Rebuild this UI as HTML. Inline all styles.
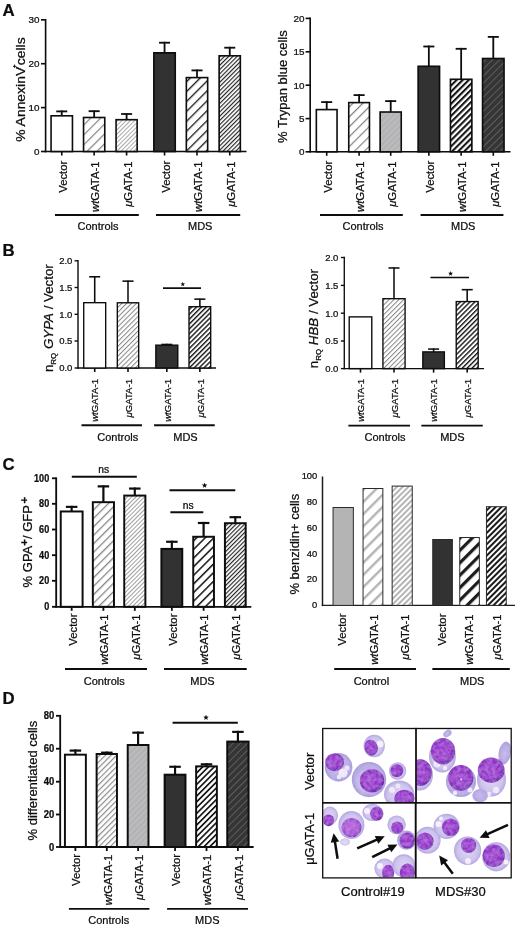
<!DOCTYPE html>
<html><head><meta charset="utf-8"><title>Figure</title><style>html,body{margin:0;padding:0;background:#fff;}body{width:520px;height:928px;overflow:hidden;font-family:"Liberation Sans",sans-serif;}svg{display:block;}</style></head><body>
<svg width="520" height="928" viewBox="0 0 520 928" font-family="'Liberation Sans', sans-serif" shape-rendering="geometricPrecision"><defs><filter id="tb" x="0" y="0" width="520" height="928" filterUnits="userSpaceOnUse"><feGaussianBlur stdDeviation="0.4"/></filter><pattern id="gw" width="7.0" height="7.0" patternUnits="userSpaceOnUse" patternTransform="rotate(-45)"><rect width="7.0" height="7.0" fill="#fff"/><rect x="0" y="0" width="7.0" height="1.2" fill="#808080"/></pattern><pattern id="gf" width="3.0" height="3.0" patternUnits="userSpaceOnUse" patternTransform="rotate(-45)"><rect width="3.0" height="3.0" fill="#fff"/><rect x="0" y="0" width="3.0" height="0.9" fill="#a2a2a2"/></pattern><pattern id="bw" width="7.0" height="7.0" patternUnits="userSpaceOnUse" patternTransform="rotate(-45)"><rect width="7.0" height="7.0" fill="#fff"/><rect x="0" y="0" width="7.0" height="1.35" fill="#1c1c1c"/></pattern><pattern id="bf" width="3.0" height="3.0" patternUnits="userSpaceOnUse" patternTransform="rotate(-45)"><rect width="3.0" height="3.0" fill="#fff"/><rect x="0" y="0" width="3.0" height="1.15" fill="#222222"/></pattern><pattern id="gfill" width="4.2" height="4.2" patternUnits="userSpaceOnUse" patternTransform="rotate(-45)"><rect width="4.2" height="4.2" fill="#b4b4b6"/><rect x="0" y="0" width="4.2" height="0.8" fill="#c4c4c6"/></pattern><pattern id="dfill" width="5.0" height="5.0" patternUnits="userSpaceOnUse" patternTransform="rotate(-45)"><rect width="5.0" height="5.0" fill="#343434"/><rect x="0" y="0" width="5.0" height="0.8" fill="#686868"/></pattern><pattern id="bm" width="4.3" height="4.3" patternUnits="userSpaceOnUse" patternTransform="rotate(-45)"><rect width="4.3" height="4.3" fill="#fff"/><rect x="0" y="0" width="4.3" height="2.1" fill="#151515"/></pattern><pattern id="gm" width="4.0" height="4.0" patternUnits="userSpaceOnUse" patternTransform="rotate(-45)"><rect width="4.0" height="4.0" fill="#fff"/><rect x="0" y="0" width="4.0" height="1.2" fill="#8c8c8c"/></pattern><pattern id="gw2" width="6.0" height="6.0" patternUnits="userSpaceOnUse" patternTransform="rotate(-45)"><rect width="6.0" height="6.0" fill="#fff"/><rect x="0" y="0" width="6.0" height="1.3" fill="#858585"/></pattern><pattern id="gfB" width="3.45" height="3.45" patternUnits="userSpaceOnUse" patternTransform="rotate(-45)"><rect width="3.45" height="3.45" fill="#fff"/><rect x="0" y="0" width="3.45" height="1.0" fill="#858585"/></pattern><pattern id="bfB" width="3.45" height="3.45" patternUnits="userSpaceOnUse" patternTransform="rotate(-45)"><rect width="3.45" height="3.45" fill="#fff"/><rect x="0" y="0" width="3.45" height="1.4" fill="#151515"/></pattern><pattern id="bw2" width="6.1" height="6.1" patternUnits="userSpaceOnUse" patternTransform="rotate(-45)"><rect width="6.1" height="6.1" fill="#fff"/><rect x="0" y="0" width="6.1" height="1.55" fill="#1a1a1a"/></pattern><pattern id="gf2" width="3.0" height="3.0" patternUnits="userSpaceOnUse" patternTransform="rotate(-45)"><rect width="3.0" height="3.0" fill="#fff"/><rect x="0" y="0" width="3.0" height="0.95" fill="#9a9a9a"/></pattern><pattern id="bmd" width="4.1" height="4.1" patternUnits="userSpaceOnUse" patternTransform="rotate(-45)"><rect width="4.1" height="4.1" fill="#fff"/><rect x="0" y="0" width="4.1" height="1.7" fill="#181818"/></pattern><pattern id="cgw" width="8.6" height="8.6" patternUnits="userSpaceOnUse" patternTransform="rotate(-45)"><rect width="8.6" height="8.6" fill="#fff"/><rect x="0" y="0" width="8.6" height="2.4" fill="#b4b4b4"/></pattern><pattern id="cgf" width="4.0" height="4.0" patternUnits="userSpaceOnUse" patternTransform="rotate(-45)"><rect width="4.0" height="4.0" fill="#fff"/><rect x="0" y="0" width="4.0" height="1.9" fill="#b2b2b2"/></pattern><pattern id="cbw" width="8.8" height="8.8" patternUnits="userSpaceOnUse" patternTransform="rotate(-45)"><rect width="8.8" height="8.8" fill="#fff"/><rect x="0" y="0" width="8.8" height="3.2" fill="#1a1a1a"/></pattern><pattern id="cbf" width="4.0" height="4.0" patternUnits="userSpaceOnUse" patternTransform="rotate(-45)"><rect width="4.0" height="4.0" fill="#fff"/><rect x="0" y="0" width="4.0" height="2.0" fill="#1a1a1a"/></pattern><filter id="bl" x="-5%" y="-5%" width="110%" height="110%"><feGaussianBlur in="SourceGraphic" stdDeviation="0.75" result="b"/><feTurbulence type="fractalNoise" baseFrequency="0.28" numOctaves="2" seed="7" result="t"/><feColorMatrix in="t" type="matrix" values="0 0 0 0 0.84  0 0 0 0 0.50  0 0 0 0 0.94  1.4 0 0 0 -0.45" result="n"/><feComposite in="n" in2="b" operator="in" result="nn"/><feComponentTransfer in="nn" result="n2"><feFuncA type="linear" slope="0.42"/></feComponentTransfer><feMerge><feMergeNode in="b"/><feMergeNode in="n2"/></feMerge></filter><filter id="bl2" x="-20%" y="-20%" width="140%" height="140%"><feGaussianBlur stdDeviation="1.1"/></filter><radialGradient id="nuc" cx="45%" cy="45%" r="55%"><stop offset="0" stop-color="#a040d4"/><stop offset="0.75" stop-color="#8c30c4"/><stop offset="1" stop-color="#702ab0"/></radialGradient><radialGradient id="nucp" cx="45%" cy="45%" r="55%"><stop offset="0" stop-color="#b868dc"/><stop offset="0.75" stop-color="#a04ed0"/><stop offset="1" stop-color="#8440c0"/></radialGradient><radialGradient id="cyt" cx="50%" cy="50%" r="50%"><stop offset="0" stop-color="#c4bee8"/><stop offset="0.8" stop-color="#b4ade2"/><stop offset="1" stop-color="#a29ad8"/></radialGradient><radialGradient id="cytp" cx="50%" cy="50%" r="50%"><stop offset="0" stop-color="#dcd8f2"/><stop offset="0.75" stop-color="#cac4ec"/><stop offset="1" stop-color="#aea6de"/></radialGradient><radialGradient id="rbc" cx="50%" cy="50%" r="50%"><stop offset="0" stop-color="#c3bce9"/><stop offset="1" stop-color="#aaa2de"/></radialGradient><clipPath id="cTL"><rect x="323.3" y="729.1" width="92.2" height="73.2"/></clipPath><clipPath id="cTR"><rect x="416.6" y="729.1" width="94.2" height="73.2"/></clipPath><clipPath id="cBL"><rect x="323.3" y="803.4" width="91.6" height="73.9"/></clipPath><clipPath id="cBR"><rect x="416.6" y="803.4" width="94.2" height="73.9"/></clipPath></defs><rect width="520" height="928" fill="#fff"/><g filter="url(#tb)"><text x="2.60" y="15.70" font-size="16.8" text-anchor="start" font-weight="bold" fill="#0a0a0a" stroke="#0a0a0a" stroke-width="0.22" >A</text>
<line x1="45.60" y1="19.00" x2="45.60" y2="152.30" stroke="#0a0a0a" stroke-width="1.6" stroke-linecap="butt"/>
<line x1="44.80" y1="151.50" x2="246.50" y2="151.50" stroke="#0a0a0a" stroke-width="1.6" stroke-linecap="butt"/>
<line x1="41.00" y1="19.80" x2="45.60" y2="19.80" stroke="#0a0a0a" stroke-width="1.6" stroke-linecap="butt"/>
<text x="39.60" y="23.36" font-size="9.9" text-anchor="end" font-weight="normal" fill="#0a0a0a" stroke="#0a0a0a" stroke-width="0.22" >30</text>
<line x1="41.00" y1="63.70" x2="45.60" y2="63.70" stroke="#0a0a0a" stroke-width="1.6" stroke-linecap="butt"/>
<text x="39.60" y="67.26" font-size="9.9" text-anchor="end" font-weight="normal" fill="#0a0a0a" stroke="#0a0a0a" stroke-width="0.22" >20</text>
<line x1="41.00" y1="107.60" x2="45.60" y2="107.60" stroke="#0a0a0a" stroke-width="1.6" stroke-linecap="butt"/>
<text x="39.60" y="111.16" font-size="9.9" text-anchor="end" font-weight="normal" fill="#0a0a0a" stroke="#0a0a0a" stroke-width="0.22" >10</text>
<line x1="41.00" y1="151.50" x2="45.60" y2="151.50" stroke="#0a0a0a" stroke-width="1.6" stroke-linecap="butt"/>
<text x="39.60" y="155.06" font-size="9.9" text-anchor="end" font-weight="normal" fill="#0a0a0a" stroke="#0a0a0a" stroke-width="0.22" >0</text>
<rect x="51.05" y="115.80" width="21.40" height="35.70" fill="#fff" stroke="#0a0a0a" stroke-width="1.6"/>
<line x1="61.75" y1="115.80" x2="61.75" y2="110.50" stroke="#0a0a0a" stroke-width="1.8" stroke-linecap="butt"/>
<line x1="56.25" y1="111.40" x2="67.25" y2="111.40" stroke="#0a0a0a" stroke-width="1.8" stroke-linecap="butt"/>
<rect x="83.55" y="117.50" width="21.20" height="34.00" fill="url(#gw)" stroke="#0a0a0a" stroke-width="1.6"/>
<line x1="94.15" y1="117.50" x2="94.15" y2="110.30" stroke="#0a0a0a" stroke-width="1.8" stroke-linecap="butt"/>
<line x1="88.65" y1="111.20" x2="99.65" y2="111.20" stroke="#0a0a0a" stroke-width="1.8" stroke-linecap="butt"/>
<rect x="116.05" y="119.70" width="21.10" height="31.80" fill="url(#gf)" stroke="#0a0a0a" stroke-width="1.6"/>
<line x1="126.60" y1="119.70" x2="126.60" y2="113.10" stroke="#0a0a0a" stroke-width="1.8" stroke-linecap="butt"/>
<line x1="121.10" y1="114.00" x2="132.10" y2="114.00" stroke="#0a0a0a" stroke-width="1.8" stroke-linecap="butt"/>
<rect x="153.85" y="52.80" width="21.40" height="98.70" fill="#313131" stroke="#0a0a0a" stroke-width="1.6"/>
<line x1="164.55" y1="52.80" x2="164.55" y2="41.80" stroke="#0a0a0a" stroke-width="1.8" stroke-linecap="butt"/>
<line x1="159.05" y1="42.70" x2="170.05" y2="42.70" stroke="#0a0a0a" stroke-width="1.8" stroke-linecap="butt"/>
<rect x="186.35" y="77.60" width="21.30" height="73.90" fill="url(#bw)" stroke="#0a0a0a" stroke-width="1.6"/>
<line x1="197.00" y1="77.60" x2="197.00" y2="69.50" stroke="#0a0a0a" stroke-width="1.8" stroke-linecap="butt"/>
<line x1="191.50" y1="70.40" x2="202.50" y2="70.40" stroke="#0a0a0a" stroke-width="1.8" stroke-linecap="butt"/>
<rect x="219.15" y="55.80" width="21.20" height="95.70" fill="url(#bf)" stroke="#0a0a0a" stroke-width="1.6"/>
<line x1="229.75" y1="55.80" x2="229.75" y2="46.80" stroke="#0a0a0a" stroke-width="1.8" stroke-linecap="butt"/>
<line x1="224.25" y1="47.70" x2="235.25" y2="47.70" stroke="#0a0a0a" stroke-width="1.8" stroke-linecap="butt"/>
<line x1="61.75" y1="151.50" x2="61.75" y2="155.50" stroke="#0a0a0a" stroke-width="1.6" stroke-linecap="butt"/>
<line x1="94.15" y1="151.50" x2="94.15" y2="155.50" stroke="#0a0a0a" stroke-width="1.6" stroke-linecap="butt"/>
<line x1="126.60" y1="151.50" x2="126.60" y2="155.50" stroke="#0a0a0a" stroke-width="1.6" stroke-linecap="butt"/>
<line x1="164.55" y1="151.50" x2="164.55" y2="155.50" stroke="#0a0a0a" stroke-width="1.6" stroke-linecap="butt"/>
<line x1="197.00" y1="151.50" x2="197.00" y2="155.50" stroke="#0a0a0a" stroke-width="1.6" stroke-linecap="butt"/>
<line x1="229.75" y1="151.50" x2="229.75" y2="155.50" stroke="#0a0a0a" stroke-width="1.6" stroke-linecap="butt"/>
<text x="67.02" y="160.70" font-size="11.3" text-anchor="end" font-weight="normal" fill="#0a0a0a" stroke="#0a0a0a" stroke-width="0.22" transform="rotate(-90 67.02 160.70)" >Vector</text>
<text x="99.42" y="161.50" font-size="11.3" text-anchor="end" font-weight="normal" fill="#0a0a0a" stroke="#0a0a0a" stroke-width="0.22" transform="rotate(-90 99.42 161.50)" ><tspan font-style="italic">wt</tspan>GATA-1</text>
<text x="131.87" y="161.50" font-size="11.3" text-anchor="end" font-weight="normal" fill="#0a0a0a" stroke="#0a0a0a" stroke-width="0.22" transform="rotate(-90 131.87 161.50)" ><tspan font-style="italic">μ</tspan>GATA-1</text>
<text x="169.82" y="160.70" font-size="11.3" text-anchor="end" font-weight="normal" fill="#0a0a0a" stroke="#0a0a0a" stroke-width="0.22" transform="rotate(-90 169.82 160.70)" >Vector</text>
<text x="202.27" y="161.50" font-size="11.3" text-anchor="end" font-weight="normal" fill="#0a0a0a" stroke="#0a0a0a" stroke-width="0.22" transform="rotate(-90 202.27 161.50)" ><tspan font-style="italic">wt</tspan>GATA-1</text>
<text x="235.02" y="161.50" font-size="11.3" text-anchor="end" font-weight="normal" fill="#0a0a0a" stroke="#0a0a0a" stroke-width="0.22" transform="rotate(-90 235.02 161.50)" ><tspan font-style="italic">μ</tspan>GATA-1</text>
<line x1="55.00" y1="215.00" x2="138.80" y2="215.00" stroke="#0a0a0a" stroke-width="1.9" stroke-linecap="butt"/>
<text x="98.00" y="230.00" font-size="11" text-anchor="middle" font-weight="normal" fill="#0a0a0a" stroke="#0a0a0a" stroke-width="0.22" >Controls</text>
<line x1="156.00" y1="215.00" x2="240.20" y2="215.00" stroke="#0a0a0a" stroke-width="1.9" stroke-linecap="butt"/>
<text x="200.20" y="230.00" font-size="11" text-anchor="middle" font-weight="normal" fill="#0a0a0a" stroke="#0a0a0a" stroke-width="0.22" >MDS</text>
<text x="25.00" y="89.60" font-size="12.8" text-anchor="middle" font-weight="normal" fill="#0a0a0a" stroke="#0a0a0a" stroke-width="0.22" transform="rotate(-90 25.00 89.60)" textLength="104.5" lengthAdjust="spacingAndGlyphs">% AnnexinV<tspan font-size="6" dy="-8.6" dx="-1.2" font-weight="bold">+</tspan><tspan dy="8.6" dx="-0.8">cells</tspan></text>
<line x1="310.20" y1="17.60" x2="310.20" y2="152.60" stroke="#0a0a0a" stroke-width="1.6" stroke-linecap="butt"/>
<line x1="309.40" y1="151.80" x2="510.50" y2="151.80" stroke="#0a0a0a" stroke-width="1.6" stroke-linecap="butt"/>
<line x1="305.60" y1="18.40" x2="310.20" y2="18.40" stroke="#0a0a0a" stroke-width="1.6" stroke-linecap="butt"/>
<text x="304.60" y="21.96" font-size="9.9" text-anchor="end" font-weight="normal" fill="#0a0a0a" stroke="#0a0a0a" stroke-width="0.22" >20</text>
<line x1="305.60" y1="51.80" x2="310.20" y2="51.80" stroke="#0a0a0a" stroke-width="1.6" stroke-linecap="butt"/>
<text x="304.60" y="55.36" font-size="9.9" text-anchor="end" font-weight="normal" fill="#0a0a0a" stroke="#0a0a0a" stroke-width="0.22" >15</text>
<line x1="305.60" y1="85.20" x2="310.20" y2="85.20" stroke="#0a0a0a" stroke-width="1.6" stroke-linecap="butt"/>
<text x="304.60" y="88.76" font-size="9.9" text-anchor="end" font-weight="normal" fill="#0a0a0a" stroke="#0a0a0a" stroke-width="0.22" >10</text>
<line x1="305.60" y1="118.60" x2="310.20" y2="118.60" stroke="#0a0a0a" stroke-width="1.6" stroke-linecap="butt"/>
<text x="304.60" y="122.16" font-size="9.9" text-anchor="end" font-weight="normal" fill="#0a0a0a" stroke="#0a0a0a" stroke-width="0.22" >5</text>
<line x1="305.60" y1="151.80" x2="310.20" y2="151.80" stroke="#0a0a0a" stroke-width="1.6" stroke-linecap="butt"/>
<text x="304.60" y="155.36" font-size="9.9" text-anchor="end" font-weight="normal" fill="#0a0a0a" stroke="#0a0a0a" stroke-width="0.22" >0</text>
<rect x="316.35" y="109.60" width="20.70" height="42.20" fill="#fff" stroke="#0a0a0a" stroke-width="1.6"/>
<line x1="326.70" y1="109.60" x2="326.70" y2="101.20" stroke="#0a0a0a" stroke-width="1.8" stroke-linecap="butt"/>
<line x1="321.20" y1="102.10" x2="332.20" y2="102.10" stroke="#0a0a0a" stroke-width="1.8" stroke-linecap="butt"/>
<rect x="348.75" y="102.60" width="20.70" height="49.20" fill="url(#gw)" stroke="#0a0a0a" stroke-width="1.6"/>
<line x1="359.10" y1="102.60" x2="359.10" y2="94.20" stroke="#0a0a0a" stroke-width="1.8" stroke-linecap="butt"/>
<line x1="353.60" y1="95.10" x2="364.60" y2="95.10" stroke="#0a0a0a" stroke-width="1.8" stroke-linecap="butt"/>
<rect x="380.15" y="112.00" width="21.10" height="39.80" fill="url(#gfill)" stroke="#0a0a0a" stroke-width="1.6"/>
<line x1="390.70" y1="112.00" x2="390.70" y2="100.20" stroke="#0a0a0a" stroke-width="1.8" stroke-linecap="butt"/>
<line x1="385.20" y1="101.10" x2="396.20" y2="101.10" stroke="#0a0a0a" stroke-width="1.8" stroke-linecap="butt"/>
<rect x="418.15" y="66.30" width="21.40" height="85.50" fill="#313131" stroke="#0a0a0a" stroke-width="1.6"/>
<line x1="428.85" y1="66.30" x2="428.85" y2="45.60" stroke="#0a0a0a" stroke-width="1.8" stroke-linecap="butt"/>
<line x1="423.35" y1="46.50" x2="434.35" y2="46.50" stroke="#0a0a0a" stroke-width="1.8" stroke-linecap="butt"/>
<rect x="450.45" y="79.30" width="21.40" height="72.50" fill="url(#bm)" stroke="#0a0a0a" stroke-width="1.6"/>
<line x1="461.15" y1="79.30" x2="461.15" y2="47.90" stroke="#0a0a0a" stroke-width="1.8" stroke-linecap="butt"/>
<line x1="455.65" y1="48.80" x2="466.65" y2="48.80" stroke="#0a0a0a" stroke-width="1.8" stroke-linecap="butt"/>
<rect x="482.55" y="58.50" width="21.50" height="93.30" fill="url(#dfill)" stroke="#0a0a0a" stroke-width="1.6"/>
<line x1="493.30" y1="58.50" x2="493.30" y2="36.00" stroke="#0a0a0a" stroke-width="1.8" stroke-linecap="butt"/>
<line x1="487.80" y1="36.90" x2="498.80" y2="36.90" stroke="#0a0a0a" stroke-width="1.8" stroke-linecap="butt"/>
<line x1="326.70" y1="151.80" x2="326.70" y2="155.80" stroke="#0a0a0a" stroke-width="1.6" stroke-linecap="butt"/>
<line x1="359.10" y1="151.80" x2="359.10" y2="155.80" stroke="#0a0a0a" stroke-width="1.6" stroke-linecap="butt"/>
<line x1="390.70" y1="151.80" x2="390.70" y2="155.80" stroke="#0a0a0a" stroke-width="1.6" stroke-linecap="butt"/>
<line x1="428.85" y1="151.80" x2="428.85" y2="155.80" stroke="#0a0a0a" stroke-width="1.6" stroke-linecap="butt"/>
<line x1="461.15" y1="151.80" x2="461.15" y2="155.80" stroke="#0a0a0a" stroke-width="1.6" stroke-linecap="butt"/>
<line x1="493.30" y1="151.80" x2="493.30" y2="155.80" stroke="#0a0a0a" stroke-width="1.6" stroke-linecap="butt"/>
<text x="331.97" y="160.70" font-size="11.3" text-anchor="end" font-weight="normal" fill="#0a0a0a" stroke="#0a0a0a" stroke-width="0.22" transform="rotate(-90 331.97 160.70)" >Vector</text>
<text x="364.37" y="161.50" font-size="11.3" text-anchor="end" font-weight="normal" fill="#0a0a0a" stroke="#0a0a0a" stroke-width="0.22" transform="rotate(-90 364.37 161.50)" ><tspan font-style="italic">wt</tspan>GATA-1</text>
<text x="395.97" y="161.50" font-size="11.3" text-anchor="end" font-weight="normal" fill="#0a0a0a" stroke="#0a0a0a" stroke-width="0.22" transform="rotate(-90 395.97 161.50)" ><tspan font-style="italic">μ</tspan>GATA-1</text>
<text x="434.12" y="160.70" font-size="11.3" text-anchor="end" font-weight="normal" fill="#0a0a0a" stroke="#0a0a0a" stroke-width="0.22" transform="rotate(-90 434.12 160.70)" >Vector</text>
<text x="466.42" y="161.50" font-size="11.3" text-anchor="end" font-weight="normal" fill="#0a0a0a" stroke="#0a0a0a" stroke-width="0.22" transform="rotate(-90 466.42 161.50)" ><tspan font-style="italic">wt</tspan>GATA-1</text>
<text x="498.57" y="161.50" font-size="11.3" text-anchor="end" font-weight="normal" fill="#0a0a0a" stroke="#0a0a0a" stroke-width="0.22" transform="rotate(-90 498.57 161.50)" ><tspan font-style="italic">μ</tspan>GATA-1</text>
<line x1="320.00" y1="215.00" x2="402.80" y2="215.00" stroke="#0a0a0a" stroke-width="1.9" stroke-linecap="butt"/>
<text x="363.00" y="230.00" font-size="11" text-anchor="middle" font-weight="normal" fill="#0a0a0a" stroke="#0a0a0a" stroke-width="0.22" >Controls</text>
<line x1="420.60" y1="215.00" x2="503.40" y2="215.00" stroke="#0a0a0a" stroke-width="1.9" stroke-linecap="butt"/>
<text x="463.20" y="230.00" font-size="11" text-anchor="middle" font-weight="normal" fill="#0a0a0a" stroke="#0a0a0a" stroke-width="0.22" >MDS</text>
<text x="287.20" y="86.60" font-size="13" text-anchor="middle" font-weight="normal" fill="#0a0a0a" stroke="#0a0a0a" stroke-width="0.22" transform="rotate(-90 287.20 86.60)" >% Trypan blue cells</text>
<text x="2.60" y="256.40" font-size="16.8" text-anchor="start" font-weight="bold" fill="#0a0a0a" stroke="#0a0a0a" stroke-width="0.22" >B</text>
<line x1="78.00" y1="260.12" x2="78.00" y2="368.68" stroke="#0a0a0a" stroke-width="1.35" stroke-linecap="butt"/>
<line x1="77.33" y1="368.00" x2="216.00" y2="368.00" stroke="#0a0a0a" stroke-width="1.35" stroke-linecap="butt"/>
<line x1="74.60" y1="260.80" x2="78.00" y2="260.80" stroke="#0a0a0a" stroke-width="1.35" stroke-linecap="butt"/>
<text x="72.40" y="264.22" font-size="9.5" text-anchor="end" font-weight="normal" fill="#0a0a0a" stroke="#0a0a0a" stroke-width="0.22" >2.0</text>
<line x1="74.60" y1="287.50" x2="78.00" y2="287.50" stroke="#0a0a0a" stroke-width="1.35" stroke-linecap="butt"/>
<text x="72.40" y="290.92" font-size="9.5" text-anchor="end" font-weight="normal" fill="#0a0a0a" stroke="#0a0a0a" stroke-width="0.22" >1.5</text>
<line x1="74.60" y1="314.30" x2="78.00" y2="314.30" stroke="#0a0a0a" stroke-width="1.35" stroke-linecap="butt"/>
<text x="72.40" y="317.72" font-size="9.5" text-anchor="end" font-weight="normal" fill="#0a0a0a" stroke="#0a0a0a" stroke-width="0.22" >1.0</text>
<line x1="74.60" y1="341.00" x2="78.00" y2="341.00" stroke="#0a0a0a" stroke-width="1.35" stroke-linecap="butt"/>
<text x="72.40" y="344.42" font-size="9.5" text-anchor="end" font-weight="normal" fill="#0a0a0a" stroke="#0a0a0a" stroke-width="0.22" >0.5</text>
<line x1="74.60" y1="368.00" x2="78.00" y2="368.00" stroke="#0a0a0a" stroke-width="1.35" stroke-linecap="butt"/>
<text x="72.40" y="371.42" font-size="9.5" text-anchor="end" font-weight="normal" fill="#0a0a0a" stroke="#0a0a0a" stroke-width="0.22" >0.0</text>
<rect x="83.72" y="302.68" width="21.95" height="65.33" fill="#fff" stroke="#0a0a0a" stroke-width="1.35"/>
<line x1="94.70" y1="302.68" x2="94.70" y2="276.00" stroke="#0a0a0a" stroke-width="1.55" stroke-linecap="butt"/>
<line x1="89.20" y1="276.77" x2="100.20" y2="276.77" stroke="#0a0a0a" stroke-width="1.55" stroke-linecap="butt"/>
<rect x="117.33" y="302.78" width="21.35" height="65.22" fill="url(#gfB)" stroke="#0a0a0a" stroke-width="1.35"/>
<line x1="128.00" y1="302.78" x2="128.00" y2="280.40" stroke="#0a0a0a" stroke-width="1.55" stroke-linecap="butt"/>
<line x1="122.50" y1="281.17" x2="133.50" y2="281.17" stroke="#0a0a0a" stroke-width="1.55" stroke-linecap="butt"/>
<rect x="155.83" y="345.18" width="21.95" height="22.82" fill="#313131" stroke="#0a0a0a" stroke-width="1.35"/>
<line x1="166.80" y1="345.18" x2="166.80" y2="343.70" stroke="#0a0a0a" stroke-width="1.55" stroke-linecap="butt"/>
<line x1="161.30" y1="344.47" x2="172.30" y2="344.47" stroke="#0a0a0a" stroke-width="1.55" stroke-linecap="butt"/>
<rect x="189.03" y="306.68" width="21.65" height="61.33" fill="url(#bfB)" stroke="#0a0a0a" stroke-width="1.35"/>
<line x1="199.85" y1="306.68" x2="199.85" y2="298.40" stroke="#0a0a0a" stroke-width="1.55" stroke-linecap="butt"/>
<line x1="194.35" y1="299.17" x2="205.35" y2="299.17" stroke="#0a0a0a" stroke-width="1.55" stroke-linecap="butt"/>
<line x1="94.70" y1="368.00" x2="94.70" y2="372.00" stroke="#0a0a0a" stroke-width="1.6" stroke-linecap="butt"/>
<line x1="128.00" y1="368.00" x2="128.00" y2="372.00" stroke="#0a0a0a" stroke-width="1.6" stroke-linecap="butt"/>
<line x1="166.80" y1="368.00" x2="166.80" y2="372.00" stroke="#0a0a0a" stroke-width="1.6" stroke-linecap="butt"/>
<line x1="199.85" y1="368.00" x2="199.85" y2="372.00" stroke="#0a0a0a" stroke-width="1.6" stroke-linecap="butt"/>
<text x="98.46" y="379.00" font-size="9.6" text-anchor="end" font-weight="normal" fill="#0a0a0a" stroke="#0a0a0a" stroke-width="0.22" transform="rotate(-90 98.46 379.00)" ><tspan font-style="italic">wt</tspan>GATA-1</text>
<text x="131.76" y="379.00" font-size="9.6" text-anchor="end" font-weight="normal" fill="#0a0a0a" stroke="#0a0a0a" stroke-width="0.22" transform="rotate(-90 131.76 379.00)" ><tspan font-style="italic">μ</tspan>GATA-1</text>
<text x="170.56" y="379.00" font-size="9.6" text-anchor="end" font-weight="normal" fill="#0a0a0a" stroke="#0a0a0a" stroke-width="0.22" transform="rotate(-90 170.56 379.00)" ><tspan font-style="italic">wt</tspan>GATA-1</text>
<text x="203.61" y="379.00" font-size="9.6" text-anchor="end" font-weight="normal" fill="#0a0a0a" stroke="#0a0a0a" stroke-width="0.22" transform="rotate(-90 203.61 379.00)" ><tspan font-style="italic">μ</tspan>GATA-1</text>
<line x1="81.50" y1="425.30" x2="142.00" y2="425.30" stroke="#0a0a0a" stroke-width="1.9" stroke-linecap="butt"/>
<text x="117.80" y="440.90" font-size="11" text-anchor="middle" font-weight="normal" fill="#0a0a0a" stroke="#0a0a0a" stroke-width="0.22" >Controls</text>
<line x1="154.10" y1="425.30" x2="214.70" y2="425.30" stroke="#0a0a0a" stroke-width="1.9" stroke-linecap="butt"/>
<text x="185.50" y="440.90" font-size="11" text-anchor="middle" font-weight="normal" fill="#0a0a0a" stroke="#0a0a0a" stroke-width="0.22" >MDS</text>
<line x1="163.00" y1="288.10" x2="201.00" y2="288.10" stroke="#0a0a0a" stroke-width="1.7" stroke-linecap="butt"/>
<polygon points="182.80,281.80 183.42,283.45 185.18,283.53 183.80,284.62 184.27,286.32 182.80,285.35 181.33,286.32 181.80,284.62 180.42,283.53 182.18,283.45" fill="#0a0a0a"/>
<text x="52.90" y="318.20" font-size="13.3" text-anchor="middle" font-weight="normal" fill="#0a0a0a" stroke="#0a0a0a" stroke-width="0.22" transform="rotate(-90 52.90 318.20)" >n<tspan font-size="8" dy="3.0">RQ</tspan><tspan dy="-3.0" font-style="italic"> GYPA</tspan> / Vector</text>
<line x1="344.30" y1="256.82" x2="344.30" y2="369.28" stroke="#0a0a0a" stroke-width="1.35" stroke-linecap="butt"/>
<line x1="343.62" y1="368.60" x2="484.00" y2="368.60" stroke="#0a0a0a" stroke-width="1.35" stroke-linecap="butt"/>
<line x1="340.90" y1="257.50" x2="344.30" y2="257.50" stroke="#0a0a0a" stroke-width="1.35" stroke-linecap="butt"/>
<text x="338.40" y="260.92" font-size="9.5" text-anchor="end" font-weight="normal" fill="#0a0a0a" stroke="#0a0a0a" stroke-width="0.22" >2.0</text>
<line x1="340.90" y1="285.40" x2="344.30" y2="285.40" stroke="#0a0a0a" stroke-width="1.35" stroke-linecap="butt"/>
<text x="338.40" y="288.82" font-size="9.5" text-anchor="end" font-weight="normal" fill="#0a0a0a" stroke="#0a0a0a" stroke-width="0.22" >1.5</text>
<line x1="340.90" y1="313.20" x2="344.30" y2="313.20" stroke="#0a0a0a" stroke-width="1.35" stroke-linecap="butt"/>
<text x="338.40" y="316.62" font-size="9.5" text-anchor="end" font-weight="normal" fill="#0a0a0a" stroke="#0a0a0a" stroke-width="0.22" >1.0</text>
<line x1="340.90" y1="341.00" x2="344.30" y2="341.00" stroke="#0a0a0a" stroke-width="1.35" stroke-linecap="butt"/>
<text x="338.40" y="344.42" font-size="9.5" text-anchor="end" font-weight="normal" fill="#0a0a0a" stroke="#0a0a0a" stroke-width="0.22" >0.5</text>
<line x1="340.90" y1="368.60" x2="344.30" y2="368.60" stroke="#0a0a0a" stroke-width="1.35" stroke-linecap="butt"/>
<text x="338.40" y="372.02" font-size="9.5" text-anchor="end" font-weight="normal" fill="#0a0a0a" stroke="#0a0a0a" stroke-width="0.22" >0.0</text>
<rect x="349.23" y="316.88" width="22.55" height="51.73" fill="#fff" stroke="#0a0a0a" stroke-width="1.35"/>
<rect x="382.93" y="298.68" width="22.15" height="69.93" fill="url(#gfB)" stroke="#0a0a0a" stroke-width="1.35"/>
<line x1="394.00" y1="298.68" x2="394.00" y2="267.20" stroke="#0a0a0a" stroke-width="1.55" stroke-linecap="butt"/>
<line x1="388.50" y1="267.97" x2="399.50" y2="267.97" stroke="#0a0a0a" stroke-width="1.55" stroke-linecap="butt"/>
<rect x="422.82" y="351.88" width="21.55" height="16.73" fill="#313131" stroke="#0a0a0a" stroke-width="1.35"/>
<line x1="433.60" y1="351.88" x2="433.60" y2="348.30" stroke="#0a0a0a" stroke-width="1.55" stroke-linecap="butt"/>
<line x1="428.10" y1="349.07" x2="439.10" y2="349.07" stroke="#0a0a0a" stroke-width="1.55" stroke-linecap="butt"/>
<rect x="456.23" y="301.57" width="21.95" height="67.03" fill="url(#bfB)" stroke="#0a0a0a" stroke-width="1.35"/>
<line x1="467.20" y1="301.57" x2="467.20" y2="288.90" stroke="#0a0a0a" stroke-width="1.55" stroke-linecap="butt"/>
<line x1="461.70" y1="289.67" x2="472.70" y2="289.67" stroke="#0a0a0a" stroke-width="1.55" stroke-linecap="butt"/>
<line x1="360.50" y1="368.60" x2="360.50" y2="372.60" stroke="#0a0a0a" stroke-width="1.6" stroke-linecap="butt"/>
<line x1="394.00" y1="368.60" x2="394.00" y2="372.60" stroke="#0a0a0a" stroke-width="1.6" stroke-linecap="butt"/>
<line x1="433.60" y1="368.60" x2="433.60" y2="372.60" stroke="#0a0a0a" stroke-width="1.6" stroke-linecap="butt"/>
<line x1="467.20" y1="368.60" x2="467.20" y2="372.60" stroke="#0a0a0a" stroke-width="1.6" stroke-linecap="butt"/>
<text x="364.26" y="379.00" font-size="9.6" text-anchor="end" font-weight="normal" fill="#0a0a0a" stroke="#0a0a0a" stroke-width="0.22" transform="rotate(-90 364.26 379.00)" ><tspan font-style="italic">wt</tspan>GATA-1</text>
<text x="397.76" y="379.00" font-size="9.6" text-anchor="end" font-weight="normal" fill="#0a0a0a" stroke="#0a0a0a" stroke-width="0.22" transform="rotate(-90 397.76 379.00)" ><tspan font-style="italic">μ</tspan>GATA-1</text>
<text x="437.36" y="379.00" font-size="9.6" text-anchor="end" font-weight="normal" fill="#0a0a0a" stroke="#0a0a0a" stroke-width="0.22" transform="rotate(-90 437.36 379.00)" ><tspan font-style="italic">wt</tspan>GATA-1</text>
<text x="470.96" y="379.00" font-size="9.6" text-anchor="end" font-weight="normal" fill="#0a0a0a" stroke="#0a0a0a" stroke-width="0.22" transform="rotate(-90 470.96 379.00)" ><tspan font-style="italic">μ</tspan>GATA-1</text>
<line x1="348.40" y1="425.60" x2="410.00" y2="425.60" stroke="#0a0a0a" stroke-width="1.9" stroke-linecap="butt"/>
<text x="385.00" y="441.00" font-size="11" text-anchor="middle" font-weight="normal" fill="#0a0a0a" stroke="#0a0a0a" stroke-width="0.22" >Controls</text>
<line x1="421.40" y1="425.60" x2="482.70" y2="425.60" stroke="#0a0a0a" stroke-width="1.9" stroke-linecap="butt"/>
<text x="452.40" y="441.00" font-size="11" text-anchor="middle" font-weight="normal" fill="#0a0a0a" stroke="#0a0a0a" stroke-width="0.22" >MDS</text>
<line x1="430.50" y1="277.50" x2="469.00" y2="277.50" stroke="#0a0a0a" stroke-width="1.7" stroke-linecap="butt"/>
<polygon points="450.60,271.00 451.24,272.72 453.07,272.80 451.64,273.94 452.13,275.70 450.60,274.69 449.07,275.70 449.56,273.94 448.13,272.80 449.96,272.72" fill="#0a0a0a"/>
<text x="317.60" y="318.60" font-size="13.3" text-anchor="middle" font-weight="normal" fill="#0a0a0a" stroke="#0a0a0a" stroke-width="0.22" transform="rotate(-90 317.60 318.60)" >n<tspan font-size="8" dy="3.0">RQ</tspan><tspan dy="-3.0" font-style="italic"> HBB</tspan> / Vector</text>
<text x="2.40" y="470.20" font-size="16.8" text-anchor="start" font-weight="bold" fill="#0a0a0a" stroke="#0a0a0a" stroke-width="0.22" >C</text>
<line x1="56.20" y1="477.40" x2="56.20" y2="607.70" stroke="#0a0a0a" stroke-width="1.8" stroke-linecap="butt"/>
<line x1="55.30" y1="606.80" x2="251.30" y2="606.80" stroke="#0a0a0a" stroke-width="1.8" stroke-linecap="butt"/>
<line x1="52.00" y1="478.30" x2="56.20" y2="478.30" stroke="#0a0a0a" stroke-width="1.8" stroke-linecap="butt"/>
<text x="0.00" y="0.00" font-size="10.0" text-anchor="end" font-weight="bold" fill="#0a0a0a" stroke="#0a0a0a" stroke-width="0.22" transform="translate(49.20 481.90) scale(0.91 1)" >100</text>
<line x1="52.00" y1="503.80" x2="56.20" y2="503.80" stroke="#0a0a0a" stroke-width="1.8" stroke-linecap="butt"/>
<text x="0.00" y="0.00" font-size="10.0" text-anchor="end" font-weight="bold" fill="#0a0a0a" stroke="#0a0a0a" stroke-width="0.22" transform="translate(49.20 507.40) scale(0.91 1)" >80</text>
<line x1="52.00" y1="529.50" x2="56.20" y2="529.50" stroke="#0a0a0a" stroke-width="1.8" stroke-linecap="butt"/>
<text x="0.00" y="0.00" font-size="10.0" text-anchor="end" font-weight="bold" fill="#0a0a0a" stroke="#0a0a0a" stroke-width="0.22" transform="translate(49.20 533.10) scale(0.91 1)" >60</text>
<line x1="52.00" y1="555.20" x2="56.20" y2="555.20" stroke="#0a0a0a" stroke-width="1.8" stroke-linecap="butt"/>
<text x="0.00" y="0.00" font-size="10.0" text-anchor="end" font-weight="bold" fill="#0a0a0a" stroke="#0a0a0a" stroke-width="0.22" transform="translate(49.20 558.80) scale(0.91 1)" >40</text>
<line x1="52.00" y1="580.80" x2="56.20" y2="580.80" stroke="#0a0a0a" stroke-width="1.8" stroke-linecap="butt"/>
<text x="0.00" y="0.00" font-size="10.0" text-anchor="end" font-weight="bold" fill="#0a0a0a" stroke="#0a0a0a" stroke-width="0.22" transform="translate(49.20 584.40) scale(0.91 1)" >20</text>
<line x1="52.00" y1="606.80" x2="56.20" y2="606.80" stroke="#0a0a0a" stroke-width="1.8" stroke-linecap="butt"/>
<text x="0.00" y="0.00" font-size="10.0" text-anchor="end" font-weight="bold" fill="#0a0a0a" stroke="#0a0a0a" stroke-width="0.22" transform="translate(49.20 610.40) scale(0.91 1)" >0</text>
<rect x="60.73" y="511.48" width="21.85" height="95.32" fill="#fff" stroke="#0a0a0a" stroke-width="1.95"/>
<line x1="71.65" y1="511.48" x2="71.65" y2="505.80" stroke="#0a0a0a" stroke-width="2.15" stroke-linecap="butt"/>
<line x1="65.90" y1="506.88" x2="77.40" y2="506.88" stroke="#0a0a0a" stroke-width="2.15" stroke-linecap="butt"/>
<rect x="92.83" y="502.18" width="21.15" height="104.62" fill="url(#gw2)" stroke="#0a0a0a" stroke-width="1.95"/>
<line x1="103.40" y1="502.18" x2="103.40" y2="485.30" stroke="#0a0a0a" stroke-width="2.15" stroke-linecap="butt"/>
<line x1="97.65" y1="486.38" x2="109.15" y2="486.38" stroke="#0a0a0a" stroke-width="2.15" stroke-linecap="butt"/>
<rect x="124.22" y="495.58" width="21.15" height="111.22" fill="url(#gf2)" stroke="#0a0a0a" stroke-width="1.95"/>
<line x1="134.80" y1="495.58" x2="134.80" y2="487.50" stroke="#0a0a0a" stroke-width="2.15" stroke-linecap="butt"/>
<line x1="129.05" y1="488.57" x2="140.55" y2="488.57" stroke="#0a0a0a" stroke-width="2.15" stroke-linecap="butt"/>
<rect x="161.42" y="548.88" width="20.85" height="57.92" fill="#313131" stroke="#0a0a0a" stroke-width="1.95"/>
<line x1="171.85" y1="548.88" x2="171.85" y2="540.70" stroke="#0a0a0a" stroke-width="2.15" stroke-linecap="butt"/>
<line x1="166.10" y1="541.78" x2="177.60" y2="541.78" stroke="#0a0a0a" stroke-width="2.15" stroke-linecap="butt"/>
<rect x="193.22" y="536.77" width="20.75" height="70.03" fill="url(#bw2)" stroke="#0a0a0a" stroke-width="1.95"/>
<line x1="203.60" y1="536.77" x2="203.60" y2="521.90" stroke="#0a0a0a" stroke-width="2.15" stroke-linecap="butt"/>
<line x1="197.85" y1="522.98" x2="209.35" y2="522.98" stroke="#0a0a0a" stroke-width="2.15" stroke-linecap="butt"/>
<rect x="224.92" y="523.18" width="20.75" height="83.62" fill="url(#bf)" stroke="#0a0a0a" stroke-width="1.95"/>
<line x1="235.30" y1="523.18" x2="235.30" y2="516.10" stroke="#0a0a0a" stroke-width="2.15" stroke-linecap="butt"/>
<line x1="229.55" y1="517.18" x2="241.05" y2="517.18" stroke="#0a0a0a" stroke-width="2.15" stroke-linecap="butt"/>
<line x1="71.65" y1="606.80" x2="71.65" y2="610.80" stroke="#0a0a0a" stroke-width="1.8" stroke-linecap="butt"/>
<line x1="103.40" y1="606.80" x2="103.40" y2="610.80" stroke="#0a0a0a" stroke-width="1.8" stroke-linecap="butt"/>
<line x1="134.80" y1="606.80" x2="134.80" y2="610.80" stroke="#0a0a0a" stroke-width="1.8" stroke-linecap="butt"/>
<line x1="171.85" y1="606.80" x2="171.85" y2="610.80" stroke="#0a0a0a" stroke-width="1.8" stroke-linecap="butt"/>
<line x1="203.60" y1="606.80" x2="203.60" y2="610.80" stroke="#0a0a0a" stroke-width="1.8" stroke-linecap="butt"/>
<line x1="235.30" y1="606.80" x2="235.30" y2="610.80" stroke="#0a0a0a" stroke-width="1.8" stroke-linecap="butt"/>
<text x="76.52" y="613.60" font-size="11.3" text-anchor="end" font-weight="normal" fill="#0a0a0a" stroke="#0a0a0a" stroke-width="0.22" transform="rotate(-90 76.52 613.60)" >Vector</text>
<text x="108.27" y="614.40" font-size="11.3" text-anchor="end" font-weight="normal" fill="#0a0a0a" stroke="#0a0a0a" stroke-width="0.22" transform="rotate(-90 108.27 614.40)" ><tspan font-style="italic">wt</tspan>GATA-1</text>
<text x="139.67" y="614.40" font-size="11.3" text-anchor="end" font-weight="normal" fill="#0a0a0a" stroke="#0a0a0a" stroke-width="0.22" transform="rotate(-90 139.67 614.40)" ><tspan font-style="italic">μ</tspan>GATA-1</text>
<text x="176.72" y="613.60" font-size="11.3" text-anchor="end" font-weight="normal" fill="#0a0a0a" stroke="#0a0a0a" stroke-width="0.22" transform="rotate(-90 176.72 613.60)" >Vector</text>
<text x="208.47" y="614.40" font-size="11.3" text-anchor="end" font-weight="normal" fill="#0a0a0a" stroke="#0a0a0a" stroke-width="0.22" transform="rotate(-90 208.47 614.40)" ><tspan font-style="italic">wt</tspan>GATA-1</text>
<text x="240.17" y="614.40" font-size="11.3" text-anchor="end" font-weight="normal" fill="#0a0a0a" stroke="#0a0a0a" stroke-width="0.22" transform="rotate(-90 240.17 614.40)" ><tspan font-style="italic">μ</tspan>GATA-1</text>
<line x1="65.00" y1="669.00" x2="147.00" y2="669.00" stroke="#0a0a0a" stroke-width="1.9" stroke-linecap="butt"/>
<text x="104.30" y="684.50" font-size="11" text-anchor="middle" font-weight="normal" fill="#0a0a0a" stroke="#0a0a0a" stroke-width="0.22" >Controls</text>
<line x1="164.00" y1="669.00" x2="246.70" y2="669.00" stroke="#0a0a0a" stroke-width="1.9" stroke-linecap="butt"/>
<text x="202.50" y="684.50" font-size="11" text-anchor="middle" font-weight="normal" fill="#0a0a0a" stroke="#0a0a0a" stroke-width="0.22" >MDS</text>
<line x1="71.80" y1="476.80" x2="136.80" y2="476.80" stroke="#0a0a0a" stroke-width="1.9" stroke-linecap="butt"/>
<text x="103.80" y="472.90" font-size="10.3" text-anchor="middle" font-weight="normal" fill="#0a0a0a" stroke="#0a0a0a" stroke-width="0.22" >ns</text>
<line x1="169.50" y1="490.30" x2="235.30" y2="490.30" stroke="#0a0a0a" stroke-width="1.9" stroke-linecap="butt"/>
<polygon points="204.60,482.60 205.32,484.51 207.36,484.60 205.76,485.88 206.30,487.85 204.60,486.72 202.90,487.85 203.44,485.88 201.84,484.60 203.88,484.51" fill="#0a0a0a"/>
<line x1="170.40" y1="512.20" x2="203.30" y2="512.20" stroke="#0a0a0a" stroke-width="1.9" stroke-linecap="butt"/>
<text x="188.20" y="508.80" font-size="10.3" text-anchor="middle" font-weight="normal" fill="#0a0a0a" stroke="#0a0a0a" stroke-width="0.22" >ns</text>
<text x="32.50" y="542.10" font-size="13" text-anchor="middle" font-weight="normal" fill="#0a0a0a" stroke="#0a0a0a" stroke-width="0.22" transform="rotate(-90 32.50 542.10)" >% GPA<tspan font-size="11.5" dy="-4.2" font-weight="bold">+</tspan><tspan dy="4.2">/ GFP</tspan><tspan font-size="11.5" dy="-4.2" dx="1.5" font-weight="bold">+</tspan></text>
<line x1="322.50" y1="476.50" x2="322.50" y2="606.10" stroke="#1a1a1a" stroke-width="1.5" stroke-linecap="butt"/>
<line x1="321.80" y1="605.40" x2="515.00" y2="605.40" stroke="#1a1a1a" stroke-width="1.4" stroke-linecap="butt"/>
<text x="317.30" y="478.90" font-size="9.4" text-anchor="end" font-weight="normal" fill="#0a0a0a" stroke="#0a0a0a" stroke-width="0.22" >100</text>
<text x="317.30" y="505.00" font-size="9.4" text-anchor="end" font-weight="normal" fill="#0a0a0a" stroke="#0a0a0a" stroke-width="0.22" >80</text>
<text x="317.30" y="530.80" font-size="9.4" text-anchor="end" font-weight="normal" fill="#0a0a0a" stroke="#0a0a0a" stroke-width="0.22" >60</text>
<text x="317.30" y="556.60" font-size="9.4" text-anchor="end" font-weight="normal" fill="#0a0a0a" stroke="#0a0a0a" stroke-width="0.22" >40</text>
<text x="317.30" y="582.40" font-size="9.4" text-anchor="end" font-weight="normal" fill="#0a0a0a" stroke="#0a0a0a" stroke-width="0.22" >20</text>
<text x="317.30" y="608.20" font-size="9.4" text-anchor="end" font-weight="normal" fill="#0a0a0a" stroke="#0a0a0a" stroke-width="0.22" >0</text>
<rect x="333.05" y="507.50" width="20.30" height="97.90" fill="#b4b4b4" stroke="#2a2a2a" stroke-width="1.0"/>
<rect x="363.05" y="488.50" width="19.80" height="116.90" fill="url(#cgw)" stroke="#2a2a2a" stroke-width="1.0"/>
<rect x="392.15" y="486.10" width="20.10" height="119.30" fill="url(#cgf)" stroke="#2a2a2a" stroke-width="1.0"/>
<rect x="432.75" y="539.50" width="19.60" height="65.90" fill="#313131" stroke="#2a2a2a" stroke-width="1.0"/>
<rect x="459.75" y="537.50" width="19.60" height="67.90" fill="url(#cbw)" stroke="#2a2a2a" stroke-width="1.0"/>
<rect x="486.45" y="506.70" width="19.80" height="98.70" fill="url(#cbf)" stroke="#2a2a2a" stroke-width="1.0"/>
<text x="345.77" y="613.60" font-size="11.3" text-anchor="end" font-weight="normal" fill="#0a0a0a" stroke="#0a0a0a" stroke-width="0.22" transform="rotate(-90 345.77 613.60)" >Vector</text>
<text x="378.07" y="614.40" font-size="11.3" text-anchor="end" font-weight="normal" fill="#0a0a0a" stroke="#0a0a0a" stroke-width="0.22" transform="rotate(-90 378.07 614.40)" ><tspan font-style="italic">wt</tspan>GATA-1</text>
<text x="409.07" y="614.40" font-size="11.3" text-anchor="end" font-weight="normal" fill="#0a0a0a" stroke="#0a0a0a" stroke-width="0.22" transform="rotate(-90 409.07 614.40)" ><tspan font-style="italic">μ</tspan>GATA-1</text>
<text x="445.77" y="613.60" font-size="11.3" text-anchor="end" font-weight="normal" fill="#0a0a0a" stroke="#0a0a0a" stroke-width="0.22" transform="rotate(-90 445.77 613.60)" >Vector</text>
<text x="473.17" y="614.40" font-size="11.3" text-anchor="end" font-weight="normal" fill="#0a0a0a" stroke="#0a0a0a" stroke-width="0.22" transform="rotate(-90 473.17 614.40)" ><tspan font-style="italic">wt</tspan>GATA-1</text>
<text x="501.07" y="614.40" font-size="11.3" text-anchor="end" font-weight="normal" fill="#0a0a0a" stroke="#0a0a0a" stroke-width="0.22" transform="rotate(-90 501.07 614.40)" ><tspan font-style="italic">μ</tspan>GATA-1</text>
<line x1="334.20" y1="669.00" x2="416.00" y2="669.00" stroke="#0a0a0a" stroke-width="1.9" stroke-linecap="butt"/>
<text x="371.40" y="684.50" font-size="11" text-anchor="middle" font-weight="normal" fill="#0a0a0a" stroke="#0a0a0a" stroke-width="0.22" >Control</text>
<line x1="432.40" y1="669.00" x2="509.80" y2="669.00" stroke="#0a0a0a" stroke-width="1.9" stroke-linecap="butt"/>
<text x="472.20" y="684.50" font-size="11" text-anchor="middle" font-weight="normal" fill="#0a0a0a" stroke="#0a0a0a" stroke-width="0.22" >MDS</text>
<text x="299.20" y="544.20" font-size="13" text-anchor="middle" font-weight="normal" fill="#0a0a0a" stroke="#0a0a0a" stroke-width="0.22" transform="rotate(-90 299.20 544.20)" >% benzidin+ cells</text>
<text x="2.60" y="703.70" font-size="16.8" text-anchor="start" font-weight="bold" fill="#0a0a0a" stroke="#0a0a0a" stroke-width="0.22" >D</text>
<line x1="60.20" y1="714.90" x2="60.20" y2="847.90" stroke="#0a0a0a" stroke-width="1.8" stroke-linecap="butt"/>
<line x1="59.30" y1="847.00" x2="253.60" y2="847.00" stroke="#0a0a0a" stroke-width="1.8" stroke-linecap="butt"/>
<line x1="56.00" y1="715.80" x2="60.20" y2="715.80" stroke="#0a0a0a" stroke-width="1.8" stroke-linecap="butt"/>
<text x="0.00" y="0.00" font-size="10.0" text-anchor="end" font-weight="bold" fill="#0a0a0a" stroke="#0a0a0a" stroke-width="0.22" transform="translate(54.40 719.40) scale(0.95 1)" >80</text>
<line x1="56.00" y1="748.70" x2="60.20" y2="748.70" stroke="#0a0a0a" stroke-width="1.8" stroke-linecap="butt"/>
<text x="0.00" y="0.00" font-size="10.0" text-anchor="end" font-weight="bold" fill="#0a0a0a" stroke="#0a0a0a" stroke-width="0.22" transform="translate(54.40 752.30) scale(0.95 1)" >60</text>
<line x1="56.00" y1="781.70" x2="60.20" y2="781.70" stroke="#0a0a0a" stroke-width="1.8" stroke-linecap="butt"/>
<text x="0.00" y="0.00" font-size="10.0" text-anchor="end" font-weight="bold" fill="#0a0a0a" stroke="#0a0a0a" stroke-width="0.22" transform="translate(54.40 785.30) scale(0.95 1)" >40</text>
<line x1="56.00" y1="814.50" x2="60.20" y2="814.50" stroke="#0a0a0a" stroke-width="1.8" stroke-linecap="butt"/>
<text x="0.00" y="0.00" font-size="10.0" text-anchor="end" font-weight="bold" fill="#0a0a0a" stroke="#0a0a0a" stroke-width="0.22" transform="translate(54.40 818.10) scale(0.95 1)" >20</text>
<line x1="56.00" y1="847.00" x2="60.20" y2="847.00" stroke="#0a0a0a" stroke-width="1.8" stroke-linecap="butt"/>
<text x="0.00" y="0.00" font-size="10.0" text-anchor="end" font-weight="bold" fill="#0a0a0a" stroke="#0a0a0a" stroke-width="0.22" transform="translate(54.40 850.60) scale(0.95 1)" >0</text>
<rect x="64.92" y="754.68" width="20.95" height="92.32" fill="#fff" stroke="#0a0a0a" stroke-width="1.95"/>
<line x1="75.40" y1="754.68" x2="75.40" y2="749.50" stroke="#0a0a0a" stroke-width="2.15" stroke-linecap="butt"/>
<line x1="69.65" y1="750.58" x2="81.15" y2="750.58" stroke="#0a0a0a" stroke-width="2.15" stroke-linecap="butt"/>
<rect x="96.62" y="753.98" width="20.35" height="93.03" fill="url(#gm)" stroke="#0a0a0a" stroke-width="1.95"/>
<line x1="106.80" y1="753.98" x2="106.80" y2="751.60" stroke="#0a0a0a" stroke-width="2.15" stroke-linecap="butt"/>
<line x1="101.05" y1="752.68" x2="112.55" y2="752.68" stroke="#0a0a0a" stroke-width="2.15" stroke-linecap="butt"/>
<rect x="127.72" y="744.98" width="20.75" height="102.03" fill="url(#gfill)" stroke="#0a0a0a" stroke-width="1.95"/>
<line x1="138.10" y1="744.98" x2="138.10" y2="731.60" stroke="#0a0a0a" stroke-width="2.15" stroke-linecap="butt"/>
<line x1="132.35" y1="732.68" x2="143.85" y2="732.68" stroke="#0a0a0a" stroke-width="2.15" stroke-linecap="butt"/>
<rect x="164.62" y="774.68" width="20.85" height="72.32" fill="#313131" stroke="#0a0a0a" stroke-width="1.95"/>
<line x1="175.05" y1="774.68" x2="175.05" y2="765.70" stroke="#0a0a0a" stroke-width="2.15" stroke-linecap="butt"/>
<line x1="169.30" y1="766.78" x2="180.80" y2="766.78" stroke="#0a0a0a" stroke-width="2.15" stroke-linecap="butt"/>
<rect x="196.12" y="766.38" width="20.75" height="80.63" fill="url(#bmd)" stroke="#0a0a0a" stroke-width="1.95"/>
<line x1="206.50" y1="766.38" x2="206.50" y2="763.20" stroke="#0a0a0a" stroke-width="2.15" stroke-linecap="butt"/>
<line x1="200.75" y1="764.28" x2="212.25" y2="764.28" stroke="#0a0a0a" stroke-width="2.15" stroke-linecap="butt"/>
<rect x="227.22" y="741.58" width="21.35" height="105.42" fill="url(#dfill)" stroke="#0a0a0a" stroke-width="1.95"/>
<line x1="237.90" y1="741.58" x2="237.90" y2="730.80" stroke="#0a0a0a" stroke-width="2.15" stroke-linecap="butt"/>
<line x1="232.15" y1="731.88" x2="243.65" y2="731.88" stroke="#0a0a0a" stroke-width="2.15" stroke-linecap="butt"/>
<line x1="75.40" y1="847.00" x2="75.40" y2="851.00" stroke="#0a0a0a" stroke-width="1.8" stroke-linecap="butt"/>
<line x1="106.80" y1="847.00" x2="106.80" y2="851.00" stroke="#0a0a0a" stroke-width="1.8" stroke-linecap="butt"/>
<line x1="138.10" y1="847.00" x2="138.10" y2="851.00" stroke="#0a0a0a" stroke-width="1.8" stroke-linecap="butt"/>
<line x1="175.05" y1="847.00" x2="175.05" y2="851.00" stroke="#0a0a0a" stroke-width="1.8" stroke-linecap="butt"/>
<line x1="206.50" y1="847.00" x2="206.50" y2="851.00" stroke="#0a0a0a" stroke-width="1.8" stroke-linecap="butt"/>
<line x1="237.90" y1="847.00" x2="237.90" y2="851.00" stroke="#0a0a0a" stroke-width="1.8" stroke-linecap="butt"/>
<text x="80.27" y="853.90" font-size="11.3" text-anchor="end" font-weight="normal" fill="#0a0a0a" stroke="#0a0a0a" stroke-width="0.22" transform="rotate(-90 80.27 853.90)" >Vector</text>
<text x="111.67" y="854.70" font-size="11.3" text-anchor="end" font-weight="normal" fill="#0a0a0a" stroke="#0a0a0a" stroke-width="0.22" transform="rotate(-90 111.67 854.70)" ><tspan font-style="italic">wt</tspan>GATA-1</text>
<text x="142.97" y="854.70" font-size="11.3" text-anchor="end" font-weight="normal" fill="#0a0a0a" stroke="#0a0a0a" stroke-width="0.22" transform="rotate(-90 142.97 854.70)" ><tspan font-style="italic">μ</tspan>GATA-1</text>
<text x="179.92" y="853.90" font-size="11.3" text-anchor="end" font-weight="normal" fill="#0a0a0a" stroke="#0a0a0a" stroke-width="0.22" transform="rotate(-90 179.92 853.90)" >Vector</text>
<text x="211.37" y="854.70" font-size="11.3" text-anchor="end" font-weight="normal" fill="#0a0a0a" stroke="#0a0a0a" stroke-width="0.22" transform="rotate(-90 211.37 854.70)" ><tspan font-style="italic">wt</tspan>GATA-1</text>
<text x="242.77" y="854.70" font-size="11.3" text-anchor="end" font-weight="normal" fill="#0a0a0a" stroke="#0a0a0a" stroke-width="0.22" transform="rotate(-90 242.77 854.70)" ><tspan font-style="italic">μ</tspan>GATA-1</text>
<line x1="68.90" y1="908.90" x2="149.40" y2="908.90" stroke="#0a0a0a" stroke-width="1.9" stroke-linecap="butt"/>
<text x="108.70" y="923.50" font-size="11" text-anchor="middle" font-weight="normal" fill="#0a0a0a" stroke="#0a0a0a" stroke-width="0.22" >Controls</text>
<line x1="167.10" y1="908.90" x2="248.00" y2="908.90" stroke="#0a0a0a" stroke-width="1.9" stroke-linecap="butt"/>
<text x="207.30" y="923.50" font-size="11" text-anchor="middle" font-weight="normal" fill="#0a0a0a" stroke="#0a0a0a" stroke-width="0.22" >MDS</text>
<line x1="172.60" y1="722.70" x2="237.80" y2="722.70" stroke="#0a0a0a" stroke-width="1.9" stroke-linecap="butt"/>
<polygon points="206.00,714.70 206.72,716.61 208.76,716.70 207.16,717.98 207.70,719.95 206.00,718.82 204.30,719.95 204.84,717.98 203.24,716.70 205.28,716.61" fill="#0a0a0a"/>
<text x="37.50" y="780.60" font-size="13" text-anchor="middle" font-weight="normal" fill="#0a0a0a" stroke="#0a0a0a" stroke-width="0.22" transform="rotate(-90 37.50 780.60)" >% differentiated cells</text>
<g clip-path="url(#cTL)"><g filter="url(#bl)">
<ellipse cx="338.6" cy="767.2" rx="13.8" ry="14.2" fill="url(#cyt)" opacity="1"/>
<circle cx="343" cy="773" r="4.5" fill="#f1eefa"/>
<circle cx="347" cy="768" r="2.5" fill="#f1eefa"/>
<circle cx="339" cy="777" r="2.2" fill="#f1eefa"/>
<ellipse cx="334.6" cy="762.2" rx="9.4" ry="9.0" fill="url(#nuc)"/>
<ellipse cx="374.2" cy="746.0" rx="10.6" ry="11.2" fill="url(#cytp)" opacity="1"/>
<circle cx="380" cy="744" r="3.6" fill="#f7f5fc"/>
<ellipse cx="371.2" cy="747.6" rx="6.6" ry="8.0" fill="url(#nuc)" transform="rotate(-15 371.2 747.6)"/>
<ellipse cx="369.0" cy="779.6" rx="17.2" ry="17.6" fill="url(#cyt)" opacity="1"/>
<ellipse cx="367.5" cy="781.5" rx="13.5" ry="14" fill="url(#cytp)" opacity="0.55"/>
<ellipse cx="372.0" cy="780.8" rx="12.2" ry="11.6" fill="url(#nuc)"/>
<ellipse cx="397.6" cy="771.0" rx="8.6" ry="8.8" fill="url(#cytp)" opacity="1"/>
<ellipse cx="396.9" cy="770.6" rx="6.4" ry="6.4" fill="url(#nuc)"/>
<ellipse cx="399.2" cy="794.2" rx="15.2" ry="13.6" fill="url(#cytp)" opacity="1"/>
<circle cx="392" cy="790" r="3.0" fill="#f1eefa"/>
<circle cx="398" cy="786" r="2.5" fill="#f1eefa"/>
<ellipse cx="404.4" cy="798.5" rx="10.2" ry="8.8" fill="url(#nuc)"/>
</g></g>
<g clip-path="url(#cTR)"><g filter="url(#bl)">
<ellipse cx="447.4" cy="733.5" rx="4.5" ry="3.2" fill="url(#rbc)" opacity="1" transform="rotate(-35 447.4 733.5)"/>
<ellipse cx="442.4" cy="756.5" rx="13.4" ry="16.0" fill="url(#cytp)" opacity="1"/>
<circle cx="437" cy="764" r="3.5" fill="#f1eefa"/>
<circle cx="445" cy="768" r="2.2" fill="#f1eefa"/>
<ellipse cx="443.0" cy="751.2" rx="12.2" ry="13.2" fill="url(#nuc)"/>
<ellipse cx="419.5" cy="775.0" rx="13.5" ry="15.5" fill="url(#cytp)" opacity="1"/>
<ellipse cx="420.4" cy="772.6" rx="11.4" ry="13.4" fill="url(#nuc)"/>
<ellipse cx="461.0" cy="781.5" rx="15.0" ry="15.5" fill="url(#cyt)" opacity="1"/>
<circle cx="470" cy="790" r="2.5" fill="#f1eefa"/>
<circle cx="455" cy="793" r="2.2" fill="#f1eefa"/>
<ellipse cx="460.8" cy="777.8" rx="12.6" ry="12.9" fill="url(#nuc)"/>
<circle cx="461.2" cy="779.5" r="1.0" fill="#efe6fb"/>
<ellipse cx="504.8" cy="753.0" rx="6.2" ry="11.5" fill="url(#rbc)" opacity="1" transform="rotate(10 504.8 753.0)"/>
<ellipse cx="491.5" cy="779.5" rx="14.5" ry="17.0" fill="url(#cytp)" opacity="1"/>
<circle cx="496" cy="790" r="3.2" fill="#f1eefa"/>
<circle cx="489" cy="794" r="2.2" fill="#f1eefa"/>
<ellipse cx="491.2" cy="770.2" rx="13.4" ry="12.6" fill="url(#nuc)"/>
<ellipse cx="480.1" cy="795.6" rx="7.8" ry="6.6" fill="url(#rbc)" opacity="1"/>
</g></g>
<g clip-path="url(#cBL)"><g filter="url(#bl)">
<ellipse cx="330.0" cy="815.5" rx="8.0" ry="9.0" fill="url(#cytp)" opacity="1"/>
<ellipse cx="328.6" cy="820.4" rx="5.6" ry="5.8" fill="url(#nuc)"/>
<ellipse cx="351.4" cy="825.0" rx="13.0" ry="14.0" fill="url(#cytp)" opacity="1"/>
<ellipse cx="345.0" cy="842.0" rx="5.0" ry="3.5" fill="url(#cytp)" opacity="0.8"/>
<ellipse cx="351.6" cy="827.6" rx="10.0" ry="9.6" fill="url(#nucp)"/>
<ellipse cx="372.4" cy="812.4" rx="10.0" ry="8.6" fill="url(#cytp)" opacity="1"/>
<circle cx="367" cy="811" r="3.0" fill="#f7f5fc"/>
<ellipse cx="376.8" cy="813.8" rx="6.6" ry="7.0" fill="url(#nuc)"/>
<ellipse cx="396.6" cy="824.8" rx="9.2" ry="9.4" fill="url(#cytp)" opacity="1"/>
<ellipse cx="397.2" cy="827.6" rx="6.0" ry="6.2" fill="url(#nuc)"/>
<ellipse cx="406.6" cy="840.2" rx="9.4" ry="9.6" fill="url(#cyt)" opacity="1"/>
<ellipse cx="407.2" cy="840.6" rx="7.6" ry="8.0" fill="url(#nuc)"/>
<ellipse cx="384.6" cy="868.6" rx="10.2" ry="10.0" fill="url(#cytp)" opacity="1"/>
<circle cx="380" cy="866" r="3.0" fill="#f7f5fc"/>
<ellipse cx="388.2" cy="873.0" rx="6.0" ry="8.2" fill="url(#nuc)"/>
<ellipse cx="403.8" cy="865.6" rx="11.4" ry="11.4" fill="url(#cytp)" opacity="1"/>
<ellipse cx="407.4" cy="872.4" rx="7.6" ry="8.8" fill="url(#nuc)"/>
</g>
<line x1="337.60" y1="858.80" x2="334.84" y2="841.10" stroke="#0c0c0c" stroke-width="2.5"/>
<polygon points="333.60,833.20 339.24,841.43 330.74,842.76" fill="#0c0c0c"/>
<line x1="357.20" y1="848.40" x2="377.48" y2="839.43" stroke="#0c0c0c" stroke-width="2.5"/>
<polygon points="384.80,836.20 378.31,843.77 374.83,835.91" fill="#0c0c0c"/>
<line x1="372.20" y1="857.20" x2="390.27" y2="848.02" stroke="#0c0c0c" stroke-width="2.5"/>
<polygon points="397.40,844.40 391.32,852.31 387.43,844.64" fill="#0c0c0c"/>
</g>
<g clip-path="url(#cBR)"><g filter="url(#bl)">
<ellipse cx="427.6" cy="840.2" rx="13.0" ry="13.4" fill="url(#cytp)" opacity="1"/>
<ellipse cx="425.0" cy="841.2" rx="8.6" ry="8.6" fill="url(#nuc)"/>
<ellipse cx="446.6" cy="826.4" rx="13.0" ry="12.6" fill="url(#cytp)" opacity="1"/>
<circle cx="438.5" cy="824" r="3.0" fill="#f7f5fc"/>
<circle cx="441" cy="818.5" r="2.0" fill="#f7f5fc"/>
<ellipse cx="450.6" cy="827.2" rx="8.6" ry="8.8" fill="url(#nuc)"/>
<ellipse cx="467.6" cy="850.6" rx="13.6" ry="14.2" fill="url(#cytp)" opacity="1"/>
<circle cx="468" cy="861" r="3.0" fill="#f7f5fc"/>
<ellipse cx="468.6" cy="845.4" rx="7.6" ry="7.4" fill="url(#nuc)"/>
<ellipse cx="496.2" cy="856.8" rx="14.0" ry="14.6" fill="url(#cytp)" opacity="1"/>
<circle cx="506" cy="862" r="2.5" fill="#f7f5fc"/>
<ellipse cx="493.8" cy="855.8" rx="11.0" ry="11.2" fill="url(#nuc)"/>
</g>
<line x1="508.00" y1="824.80" x2="486.87" y2="834.47" stroke="#0c0c0c" stroke-width="2.5"/>
<polygon points="479.60,837.80 485.99,830.14 489.57,837.96" fill="#0c0c0c"/>
<line x1="452.80" y1="873.80" x2="443.99" y2="862.01" stroke="#0c0c0c" stroke-width="2.5"/>
<polygon points="439.20,855.60 448.03,860.24 441.14,865.38" fill="#0c0c0c"/>
</g>
<rect x="322.7" y="728.5" width="93.3" height="74.3" fill="none" stroke="#101010" stroke-width="1.3"/>
<rect x="416.0" y="728.5" width="95.2" height="74.3" fill="none" stroke="#101010" stroke-width="1.3"/>
<rect x="322.7" y="802.8" width="92.7" height="75.1" fill="none" stroke="#101010" stroke-width="1.3"/>
<rect x="416.0" y="802.8" width="95.2" height="75.1" fill="none" stroke="#101010" stroke-width="1.3"/>
<text x="314.5" y="771.4" font-size="13.2" text-anchor="middle" fill="#0a0a0a" stroke="#0a0a0a" stroke-width="0.22" transform="rotate(-90 314.5 771.4)">Vector</text>
<text x="314.5" y="838.8" font-size="12.9" text-anchor="middle" fill="#0a0a0a" stroke="#0a0a0a" stroke-width="0.22" transform="rotate(-90 314.5 838.8)">μGATA-1</text>
<text x="372.9" y="896.2" font-size="13" text-anchor="middle" fill="#0a0a0a" stroke="#0a0a0a" stroke-width="0.22">Control#19</text>
<text x="460.4" y="896.2" font-size="13" text-anchor="middle" fill="#0a0a0a" stroke="#0a0a0a" stroke-width="0.22">MDS#30</text></g></svg>
</body></html>
